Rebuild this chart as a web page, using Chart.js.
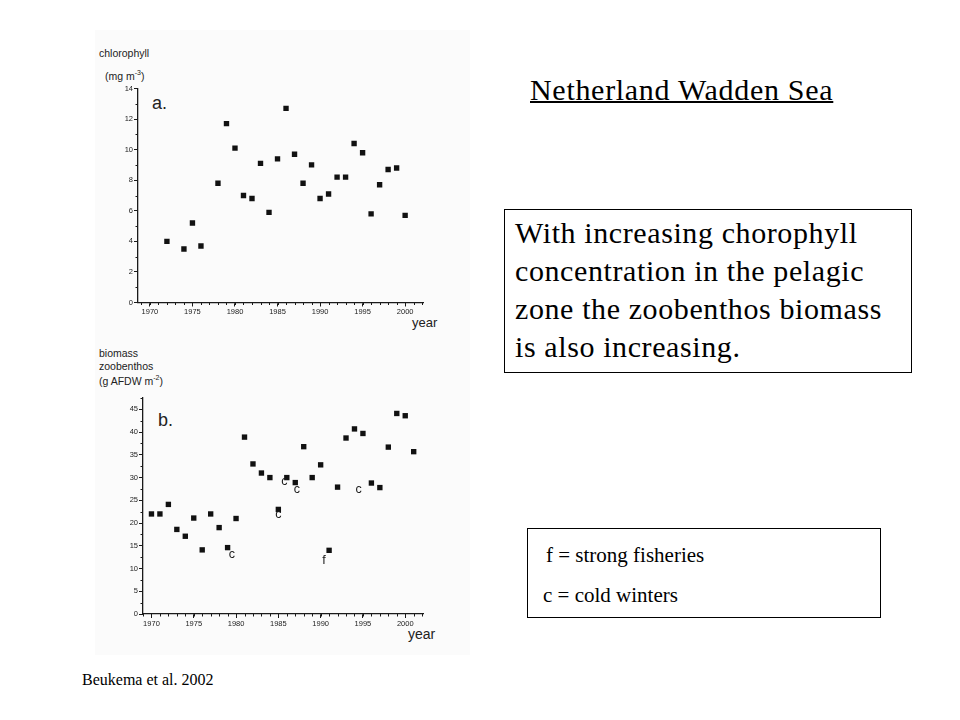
<!DOCTYPE html>
<html lang="en">
<head>
<meta charset="UTF-8">
<title>Netherland Wadden Sea</title>
<script src="https://cdn.jsdelivr.net/npm/chart.js@4.4.0"></script>
<style>
  body {
    margin: 0;
    width: 960px;
    height: 720px;
    position: relative;
    overflow: hidden;
    background: #fff;
    font-family: "Liberation Serif", "Times New Roman", serif;
    color: #000;
  }
  .scan {
    position: absolute;
    left: 95px;
    top: 30px;
    width: 375px;
    height: 625px;
    background: #fbfbfb;
  }
  canvas {
    position: absolute;
    left: 90px;
  }
  #chartA { top: 80px; }
  #chartB { top: 390px; }
  .lab {
    position: absolute;
    font-family: "Liberation Sans", Arial, sans-serif;
    color: #222;
    white-space: nowrap;
  }
  .lab sup { font-size: 7px; }
  .small { font-size: 10.5px; line-height: 12px; }
  .panel { font-size: 18px; line-height: 20px; }
  .title {
    position: absolute;
    left: 530px;
    top: 75px;
    font-size: 30px;
    line-height: 30px;
    letter-spacing: 0.7px;
    text-decoration: underline;
    text-decoration-thickness: 1.5px;
    white-space: nowrap;
  }
  .box {
    position: absolute;
    left: 504px;
    top: 209px;
    width: 408px;
    height: 164px;
    box-sizing: border-box;
    border: 1.3px solid #000;
    padding: 4px 0 0 10px;
    font-size: 30px;
    line-height: 38px;
    letter-spacing: 0.6px;
  }
  .legend {
    position: absolute;
    left: 527px;
    top: 528px;
    width: 354px;
    height: 90px;
    box-sizing: border-box;
    border: 1.3px solid #000;
  }
  .note {
    position: absolute;
    font-size: 21px;
    line-height: 21px;
    white-space: nowrap;
  }
  .source {
    position: absolute;
    left: 82px;
    top: 672px;
    font-size: 16px;
    line-height: 16px;
    white-space: nowrap;
  }
</style>
</head>
<body>
  <div class="scan"></div>

  <div class="lab small" style="left:99px; top:47px;">chlorophyll</div>
  <div class="lab small" style="left:105px; top:67px;">(mg m<sup>-3</sup>)</div>
  <div class="lab panel" style="left:152px; top:93px;">a.</div>
  <div class="lab" style="left:412px; top:316px; font-size:13px; line-height:14px;">year</div>
  <canvas id="chartA" width="345" height="240"></canvas>

  <div class="lab small" style="left:99px; top:347px;">biomass</div>
  <div class="lab small" style="left:99px; top:360px;">zoobenthos</div>
  <div class="lab small" style="left:99px; top:372px;">(g AFDW m<sup>-2</sup>)</div>
  <div class="lab panel" style="left:158px; top:410px;">b.</div>
  <div class="lab" style="left:408px; top:627px; font-size:14px; line-height:15px;">year</div>
  <canvas id="chartB" width="345" height="245"></canvas>

  <div class="title">Netherland Wadden Sea</div>
  <div class="box">With increasing chorophyll<br>concentration in the pelagic<br>zone the zoobenthos biomass<br>is also increasing.</div>

  <div class="legend"></div>
  <div class="note" style="left:546px; top:545px;">f = strong fisheries</div>
  <div class="note" style="left:543px; top:585px;">c = cold winters</div>

  <div class="source">Beukema et al. 2002</div>

  <script>
    // panel a: chlorophyll (mg m-3)
    const yearsA = [1972, 1974, 1975, 1976, 1978, 1979, 1980, 1981, 1982, 1983, 1984, 1985, 1986,
      1987, 1988, 1989, 1990, 1991, 1992, 1993, 1994, 1995, 1996, 1997, 1998, 1999, 2000];
    const chlorophyll = [4.0, 3.5, 5.2, 3.7, 7.8, 11.7, 10.1, 7.0, 6.8, 9.1, 5.9, 9.4, 12.7,
      9.7, 7.8, 9.0, 6.8, 7.1, 8.2, 8.2, 10.4, 9.8, 5.8, 7.7, 8.7, 8.8, 5.7];

    // panel b: zoobenthos biomass (g AFDW m-2)
    const yearsB = [1970, 1971, 1972, 1973, 1974, 1975, 1976, 1977, 1978, 1979, 1980, 1981, 1982,
      1983, 1984, 1985, 1986, 1987, 1988, 1989, 1990, 1991, 1992, 1993, 1994, 1995, 1996, 1997,
      1998, 1999, 2000, 2001];
    const biomass = [22.0, 22.0, 24.1, 18.6, 17.1, 21.1, 14.1, 22.0, 19.0, 14.6, 21.0, 38.9, 33.0,
      31.0, 30.0, 23.0, 30.0, 28.9, 36.8, 30.0, 32.8, 14.0, 27.9, 38.7, 40.7, 39.7, 28.8, 27.8,
      36.7, 44.1, 43.6, 35.7];

    // c = cold winters, f = strong fisheries
    const noteLabels = ['c', 'c', 'c', 'c', 'c', 'f'];
    const noteYears = [1979.5, 1985.0, 1985.7, 1987.2, 1994.5, 1990.4];
    const noteValues = [13.0, 21.8, 29.1, 27.3, 27.3, 11.7];

    const xTicks = [1970, 1975, 1980, 1985, 1990, 1995, 2000];
    const yTicksA = [0, 2, 4, 6, 8, 10, 12, 14];
    const yTicksB = [0, 5, 10, 15, 20, 25, 30, 35, 40, 45];

    const ink = '#1a1a1a';
    const tickFont = { family: '"Liberation Sans", Arial, sans-serif', size: 7.5 };

    const minorTicks = {
      id: 'minorTicks',
      afterDraw(chart, args, opts) {
        const ctx = chart.ctx;
        const xs = chart.scales.x, ys = chart.scales.y;
        ctx.save();
        ctx.strokeStyle = ink;
        ctx.lineWidth = 1;
        ctx.beginPath();
        for (let v = opts.x[0]; v <= opts.x[1] + 1e-9; v += opts.x[2]) {
          const px = Math.round(xs.getPixelForValue(v)) + 0.5;
          ctx.moveTo(px, xs.top);
          ctx.lineTo(px, xs.top + 2.5);
        }
        for (let v = opts.y[0]; v <= opts.y[1] + 1e-9; v += opts.y[2]) {
          const py = Math.round(ys.getPixelForValue(v)) + 0.5;
          ctx.moveTo(ys.right, py);
          ctx.lineTo(ys.right - 2.5, py);
        }
        ctx.stroke();
        ctx.restore();
      }
    };

    const notes = {
      id: 'notes',
      afterDatasetsDraw(chart, args, opts) {
        if (!opts.labels) return;
        const ctx = chart.ctx;
        ctx.save();
        ctx.fillStyle = ink;
        ctx.font = '12.5px "Liberation Sans", Arial, sans-serif';
        ctx.textAlign = 'center';
        ctx.textBaseline = 'middle';
        opts.labels.forEach((t, i) => {
          ctx.fillText(t, chart.scales.x.getPixelForValue(opts.xs[i]),
            chart.scales.y.getPixelForValue(opts.ys[i]));
        });
        ctx.restore();
      }
    };

    function makeChart(id, years, values, cfg) {
      return new Chart(document.getElementById(id), {
        type: 'scatter',
        data: {
          datasets: [{
            data: years.map((y, i) => ({ x: y, y: values[i] })),
            pointStyle: 'rect',
            pointRadius: 3.8,
            borderWidth: 0,
            backgroundColor: '#111'
          }]
        },
        options: {
          responsive: false,
          animation: false,
          events: [],
          layout: { padding: cfg.padding },
          plugins: {
            legend: { display: false },
            tooltip: { enabled: false },
            minorTicks: cfg.minor,
            notes: cfg.notes || {}
          },
          scales: {
            x: {
              type: 'linear',
              min: cfg.xMin,
              max: cfg.xMax,
              afterBuildTicks: s => { s.ticks = xTicks.map(v => ({ value: v })); },
              afterFit: s => { s.height = cfg.xHeight; },
              border: { display: true, color: ink, width: 1.3 },
              grid: { drawOnChartArea: false, drawTicks: true, tickLength: 4, tickColor: ink },
              ticks: {
                autoSkip: false, maxRotation: 0, padding: 1, color: '#222', font: tickFont,
                callback: v => String(v)
              }
            },
            y: {
              min: 0,
              max: cfg.yMax,
              afterBuildTicks: s => { s.ticks = cfg.yTicks.map(v => ({ value: v })); },
              afterFit: s => { s.width = cfg.yWidth; },
              border: { display: true, color: ink, width: 1.3 },
              grid: { drawOnChartArea: false, drawTicks: true, tickLength: 4, tickColor: ink },
              ticks: { padding: 1, color: '#222', font: tickFont }
            }
          }
        },
        plugins: [minorTicks, notes]
      });
    }

    makeChart('chartA', yearsA, chlorophyll, {
      xMin: 1968.6, xMax: 2002.1, yMax: 14, yTicks: yTicksA,
      yWidth: 48, xHeight: 17.5,
      padding: { top: 8.5, right: 12, bottom: 0, left: 0 },
      minor: { x: [1969, 2002, 1], y: [1, 13, 2] }
    });

    makeChart('chartB', yearsB, biomass, {
      xMin: 1969.0, xMax: 2002.1, yMax: 47.5, yTicks: yTicksB,
      yWidth: 53, xHeight: 21,
      padding: { top: 8, right: 12, bottom: 0, left: 0 },
      minor: { x: [1969, 2002, 1], y: [2.5, 47.5, 5] },
      notes: { labels: noteLabels, xs: noteYears, ys: noteValues }
    });
  </script>
</body>
</html>
